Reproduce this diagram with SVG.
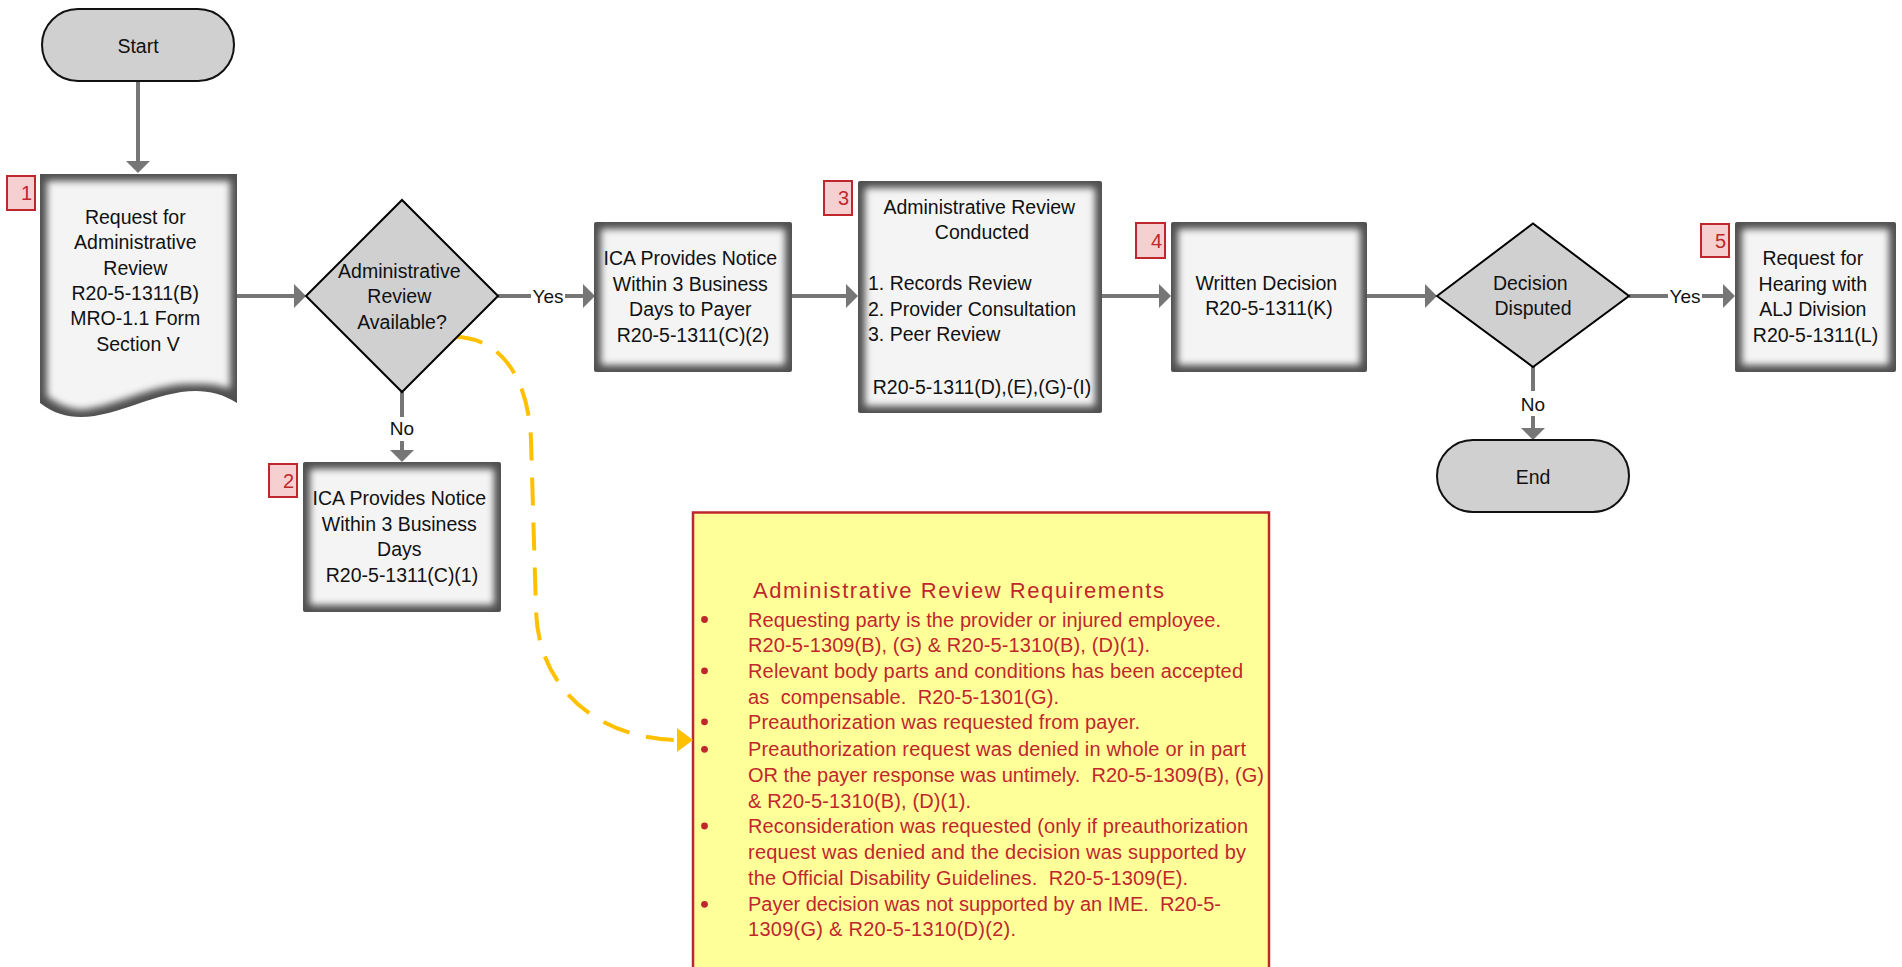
<svg xmlns="http://www.w3.org/2000/svg" width="1902" height="967" viewBox="0 0 1902 967">
<style>
text { font-family: "Liberation Sans", Arial, sans-serif; }
.t { font-size: 19.5px; fill: #111; text-anchor: middle; }
.tl { font-size: 19.5px; fill: #111; text-anchor: start; }
.lbl { font-size: 19px; fill: #111; text-anchor: middle; }
.lblbg { fill: #fff; }
.red { font-size: 20px; fill: #c0272d; text-anchor: start; }
.redt { font-size: 22px; fill: #c0272d; text-anchor: start; }
.bul { fill: #c0272d; }
.badge { fill: #f6d0d0; stroke: #c0272d; stroke-width: 2; }
.bnum { font-size: 20px; fill: #c0272d; text-anchor: end; }
.conn { stroke: #767676; stroke-width: 4; fill: none; marker-end: url(#arr); }
.dash { stroke: #ffc000; stroke-width: 4; fill: none; stroke-dasharray: 28 17; marker-end: url(#arrY); }
.dec { fill: #d0d0d0; stroke: #000; stroke-width: 2; }
.term { fill: #d0d0d0; stroke: #111; stroke-width: 2; }
.pb { fill: #505050; }
.pf { fill: #f4f4f4; filter: url(#bevel); }
.note { fill: #ffff99; stroke: #c0272d; stroke-width: 2.5; }
</style>
<defs>
  <filter id="bevel" x="-10%" y="-10%" width="120%" height="120%">
    <feMorphology in="SourceGraphic" operator="erode" radius="6.5"/>
    <feGaussianBlur stdDeviation="3.5"/>
  </filter>
  <marker id="arr" markerUnits="userSpaceOnUse" viewBox="0 0 12 24" refX="8" refY="12" markerWidth="12" markerHeight="24" orient="auto">
    <path d="M0,0 L12,12 L0,24 Z" fill="#767676"/>
  </marker>
  <marker id="arrY" markerUnits="userSpaceOnUse" viewBox="0 0 16 24" refX="3" refY="12" markerWidth="16" markerHeight="24" orient="auto">
    <path d="M0,0 L16,12 L0,24 Z" fill="#ffc000"/>
  </marker>
</defs>
<rect width="1902" height="967" fill="#fff"/>

<!-- Note box -->
<g id="note">
  <rect class="note" x="693" y="512.5" width="576" height="470"/>
  <text class="redt" x="753" y="597.5" textLength="411" lengthAdjust="spacing">Administrative Review Requirements</text>
  <circle class="bul" cx="704.5" cy="619.5" r="3.4"/>
  <circle class="bul" cx="704.5" cy="670.8" r="3.4"/>
  <circle class="bul" cx="704.5" cy="721.8" r="3.4"/>
  <circle class="bul" cx="704.5" cy="749.3" r="3.4"/>
  <circle class="bul" cx="704.5" cy="826" r="3.4"/>
  <circle class="bul" cx="704.5" cy="904.3" r="3.4"/>
  <text class="red" xml:space="preserve" x="748" y="626.5" textLength="473" lengthAdjust="spacing">Requesting party is the provider or injured employee.</text>
  <text class="red" xml:space="preserve" x="748" y="651.5" textLength="402" lengthAdjust="spacing">R20-5-1309(B), (G) &amp; R20-5-1310(B), (D)(1).</text>
  <text class="red" xml:space="preserve" x="748" y="677.7" textLength="495" lengthAdjust="spacing">Relevant body parts and conditions has been accepted</text>
  <text class="red" xml:space="preserve" x="748" y="703.7" textLength="311" lengthAdjust="spacing">as  compensable.  R20-5-1301(G).</text>
  <text class="red" xml:space="preserve" x="748" y="728.7" textLength="392" lengthAdjust="spacing">Preauthorization was requested from payer.</text>
  <text class="red" xml:space="preserve" x="748" y="756.3" textLength="498" lengthAdjust="spacing">Preauthorization request was denied in whole or in part</text>
  <text class="red" xml:space="preserve" x="748" y="782" textLength="516" lengthAdjust="spacing">OR the payer response was untimely.  R20-5-1309(B), (G)</text>
  <text class="red" xml:space="preserve" x="748" y="807.7" textLength="223" lengthAdjust="spacing">&amp; R20-5-1310(B), (D)(1).</text>
  <text class="red" xml:space="preserve" x="748" y="833" textLength="500" lengthAdjust="spacing">Reconsideration was requested (only if preauthorization</text>
  <text class="red" xml:space="preserve" x="748" y="859.3" textLength="498" lengthAdjust="spacing">request was denied and the decision was supported by</text>
  <text class="red" xml:space="preserve" x="748" y="884.7" textLength="440" lengthAdjust="spacing">the Official Disability Guidelines.  R20-5-1309(E).</text>
  <text class="red" xml:space="preserve" x="748" y="911.3" textLength="473" lengthAdjust="spacing">Payer decision was not supported by an IME.  R20-5-</text>
  <text class="red" xml:space="preserve" x="748" y="936.3" textLength="268" lengthAdjust="spacing">1309(G) &amp; R20-5-1310(D)(2).</text>
</g>

<!-- Connectors -->
<g id="connectors">
  <path class="conn" d="M138,81 L138,169"/>
  <path class="conn" d="M237,296 L302,296"/>
  <path class="conn" d="M498,296 L591,296"/>
  <path class="conn" d="M402,392 L402,458"/>
  <path class="conn" d="M792,296 L854,296"/>
  <path class="conn" d="M1101.5,296 L1167,296"/>
  <path class="conn" d="M1367,296 L1433,296"/>
  <path class="conn" d="M1629,296 L1731,296"/>
  <path class="conn" d="M1533,367 L1533,436"/>
  <path class="dash" d="M455,337 C495,337 528,370 531,440 L536,610 C538,690 600,740 680,740"/>
  <g id="labels">
    <rect class="lblbg" x="531" y="285" width="34" height="22"/>
    <text class="lbl" x="548" y="303">Yes</text>
    <rect class="lblbg" x="389" y="417" width="26" height="24"/>
    <text class="lbl" x="402" y="435">No</text>
    <rect class="lblbg" x="1668" y="285" width="34" height="22"/>
    <text class="lbl" x="1685" y="303">Yes</text>
    <rect class="lblbg" x="1520" y="391" width="26" height="25"/>
    <text class="lbl" x="1533" y="411">No</text>
  </g>
</g>

<!-- Start -->
<g id="n-start">
  <rect class="term" x="42" y="9" width="192" height="72" rx="36" ry="36"/>
  <text class="t" x="138" y="52.5">Start</text>
</g>

<!-- Document: Request for Administrative Review -->
<g id="n-request">
  <path class="pb" d="M40,174 L237,174 L237,403 C170,360 100,450 40,403 Z"/>
  <path class="pf" d="M40,174 L237,174 L237,403 C170,360 100,450 40,403 Z"/>
  <text class="t">
    <tspan x="138" y="224">Request for</tspan>
    <tspan x="138" y="249.3">Administrative</tspan>
    <tspan x="138" y="274.6">Review</tspan>
    <tspan x="138" y="299.9">R20-5-1311(B)</tspan>
    <tspan x="138" y="325.2">MRO-1.1 Form</tspan>
    <tspan x="138" y="350.5">Section V</tspan>
  </text>
  <rect class="badge" x="7" y="176" width="28" height="34"/>
  <text class="bnum" x="32" y="200">1</text>
</g>

<!-- Decision 1 -->
<g id="n-available">
  <polygon class="dec" points="306,296 402,200 498,296 402,392"/>
  <text class="t">
    <tspan x="402" y="277.5">Administrative</tspan>
    <tspan x="402" y="303">Review</tspan>
    <tspan x="402" y="328.5">Available?</tspan>
  </text>
</g>

<!-- Box 2 -->
<g id="n-notice-no">
  <rect class="pb" x="303" y="462" width="198" height="150" rx="2"/>
  <rect class="pf" x="303" y="462" width="198" height="150" rx="2"/>
  <text class="t">
    <tspan x="402" y="505">ICA Provides Notice</tspan>
    <tspan x="402" y="530.5">Within 3 Business</tspan>
    <tspan x="402" y="556">Days</tspan>
    <tspan x="402" y="581.5">R20-5-1311(C)(1)</tspan>
  </text>
  <rect class="badge" x="269" y="464" width="28" height="33"/>
  <text class="bnum" x="294" y="488">2</text>
</g>

<!-- Box 1 -->
<g id="n-notice-payer">
  <rect class="pb" x="594" y="222" width="198" height="150" rx="2"/>
  <rect class="pf" x="594" y="222" width="198" height="150" rx="2"/>
  <text class="t">
    <tspan x="693" y="265">ICA Provides Notice</tspan>
    <tspan x="693" y="290.5">Within 3 Business</tspan>
    <tspan x="693" y="316">Days to Payer</tspan>
    <tspan x="693" y="341.5">R20-5-1311(C)(2)</tspan>
  </text>
</g>

<!-- Box 3 -->
<g id="n-conducted">
  <rect class="pb" x="858" y="181" width="244" height="232" rx="2"/>
  <rect class="pf" x="858" y="181" width="244" height="232" rx="2"/>
  <text class="t">
    <tspan x="982" y="213.5">Administrative Review</tspan>
    <tspan x="982" y="239">Conducted</tspan>
  </text>
  <text class="tl">
    <tspan x="868" y="290">1. Records Review</tspan>
    <tspan x="868" y="315.5">2. Provider Consultation</tspan>
    <tspan x="868" y="341">3. Peer Review</tspan>
  </text>
  <text class="t" x="982" y="393.5">R20-5-1311(D),(E),(G)-(I)</text>
  <rect class="badge" x="824" y="181" width="28" height="34"/>
  <text class="bnum" x="849" y="205">3</text>
</g>

<!-- Box 4 -->
<g id="n-written">
  <rect class="pb" x="1171" y="222" width="196" height="150" rx="2"/>
  <rect class="pf" x="1171" y="222" width="196" height="150" rx="2"/>
  <text class="t">
    <tspan x="1269" y="289.5">Written Decision</tspan>
    <tspan x="1269" y="315">R20-5-1311(K)</tspan>
  </text>
  <rect class="badge" x="1136" y="223" width="29" height="35"/>
  <text class="bnum" x="1162" y="248">4</text>
</g>

<!-- Decision 2 -->
<g id="n-disputed">
  <polygon class="dec" points="1437,296 1533,223.5 1629,296 1533,367"/>
  <text class="t">
    <tspan x="1533" y="289.5">Decision</tspan>
    <tspan x="1533" y="315">Disputed</tspan>
  </text>
</g>

<!-- Box 5 -->
<g id="n-hearing">
  <rect class="pb" x="1735" y="222" width="161" height="150" rx="2"/>
  <rect class="pf" x="1735" y="222" width="161" height="150" rx="2"/>
  <text class="t">
    <tspan x="1815.5" y="265">Request for</tspan>
    <tspan x="1815.5" y="290.5">Hearing with</tspan>
    <tspan x="1815.5" y="316">ALJ Division</tspan>
    <tspan x="1815.5" y="341.5">R20-5-1311(L)</tspan>
  </text>
  <rect class="badge" x="1701" y="224" width="28" height="33"/>
  <text class="bnum" x="1726" y="248">5</text>
</g>

<!-- End -->
<g id="n-end">
  <rect class="term" x="1437" y="440" width="192" height="72" rx="36" ry="36"/>
  <text class="t" x="1533" y="483.5">End</text>
</g>
</svg>
